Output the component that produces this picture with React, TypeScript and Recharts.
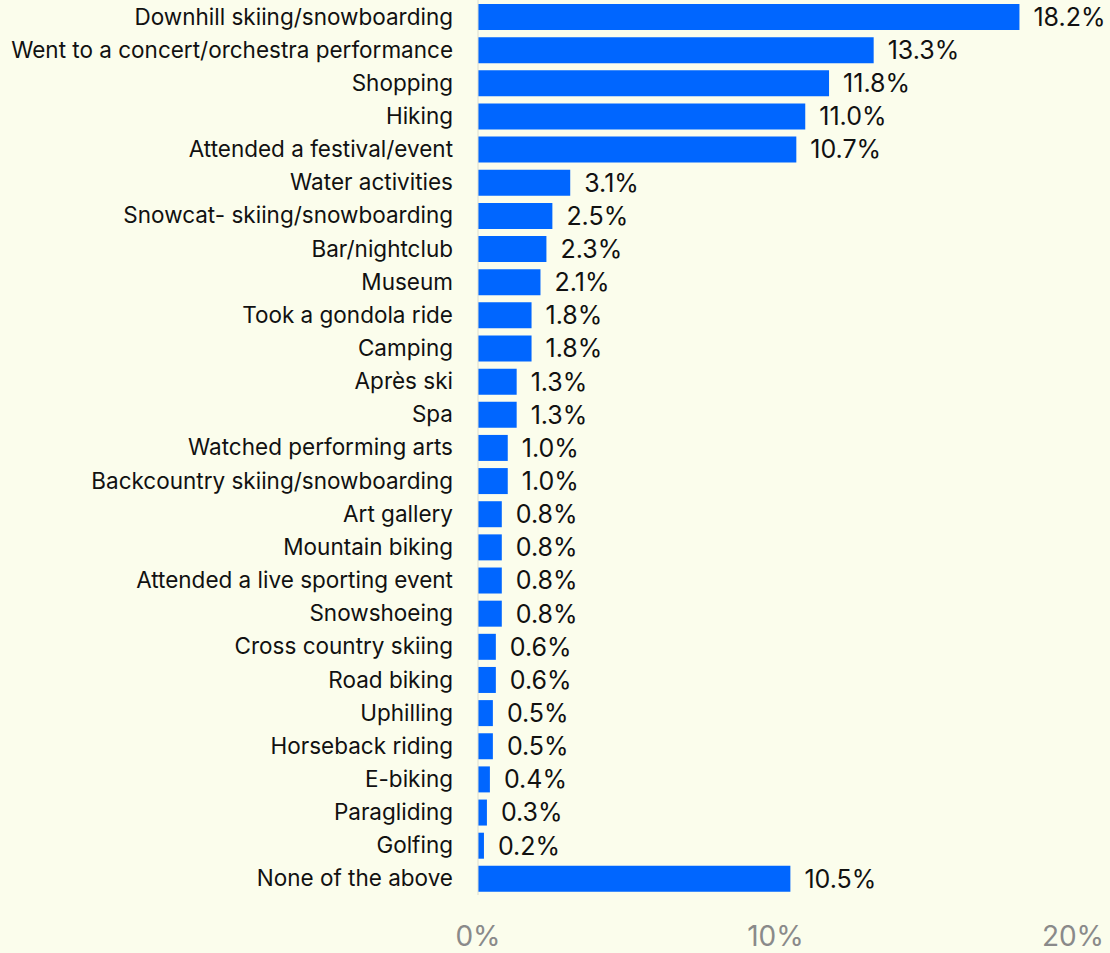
import { BarChart, Bar, XAxis, YAxis, LabelList } from "recharts";

const activities = [
  "Downhill skiing/snowboarding",
  "Went to a concert/orchestra performance",
  "Shopping",
  "Hiking",
  "Attended a festival/event",
  "Water activities",
  "Snowcat- skiing/snowboarding",
  "Bar/nightclub",
  "Museum",
  "Took a gondola ride",
  "Camping",
  "Après ski",
  "Spa",
  "Watched performing arts",
  "Backcountry skiing/snowboarding",
  "Art gallery",
  "Mountain biking",
  "Attended a live sporting event",
  "Snowshoeing",
  "Cross country skiing",
  "Road biking",
  "Uphilling",
  "Horseback riding",
  "E-biking",
  "Paragliding",
  "Golfing",
  "None of the above",
];

const shares = [
  18.2, 13.3, 11.8, 11.0, 10.7, 3.1, 2.5, 2.3, 2.1, 1.8, 1.8, 1.3, 1.3, 1.0, 1.0,
  0.8, 0.8, 0.8, 0.8, 0.6, 0.6, 0.5, 0.5, 0.4, 0.3, 0.2, 10.5,
];

const xTicks = [0, 10, 20];

const data = activities.map((name, i) => ({ name, share: shares[i] }));

const FONT = "Inter, sans-serif";

export default function App() {
  return (
    <div
      style={{
        position: "fixed",
        left: 0,
        top: 0,
        width: 1110,
        height: 953,
        background: "#fbfdec",
        fontFamily: FONT,
      }}
    >
      <BarChart
        width={1110}
        height={953}
        data={data}
        layout="vertical"
        barSize={26}
        margin={{ top: 0, right: 37, left: 0, bottom: 0 }}
      >
        <XAxis
          type="number"
          domain={[0, 20]}
          ticks={xTicks}
          tickFormatter={(v) => `${v}%`}
          axisLine={false}
          tickLine={false}
          height={58}
          tickMargin={25}
          tick={{ fill: "#8a8a8a", fontSize: 28, fontFamily: FONT }}
        />
        <YAxis
          type="category"
          dataKey="name"
          width={478}
          axisLine={{ stroke: "#dcdcd0", strokeWidth: 1 }}
          tickLine={false}
          tickSize={0}
          tickMargin={25}
          interval={0}
          tick={{ fill: "#111", fontSize: 22.5, fontFamily: FONT }}
        />
        <Bar dataKey="share" fill="#0066ff" isAnimationActive={false}>
          <LabelList
            dataKey="share"
            position="right"
            offset={14}
            formatter={(v: number) => `${v.toFixed(1)}%`}
            style={{ fill: "#111", fontSize: 25, fontFamily: FONT }}
          />
        </Bar>
      </BarChart>
    </div>
  );
}
